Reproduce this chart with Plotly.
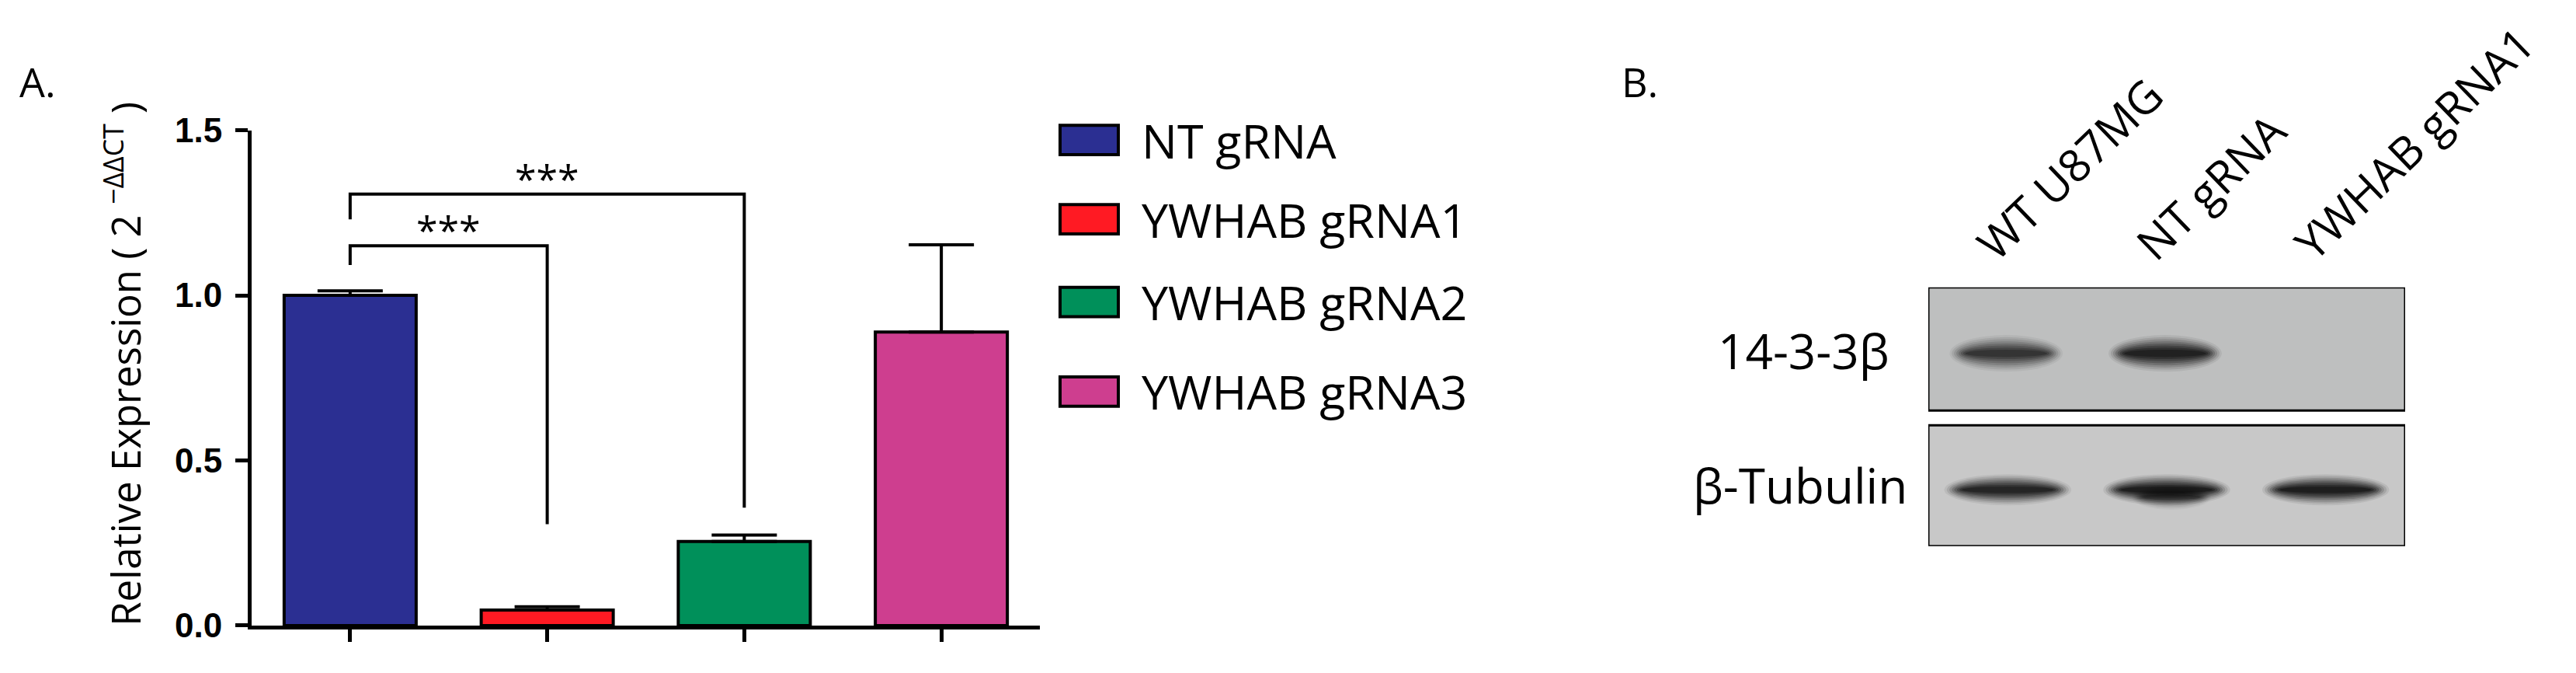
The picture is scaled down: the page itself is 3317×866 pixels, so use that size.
import plotly.graph_objects as go

W, H = 3317, 866

# ---------------- data ----------------
categories = ["NT gRNA", "YWHAB gRNA1", "YWHAB gRNA2", "YWHAB gRNA3"]
means = [1.000, 0.047, 0.255, 0.889]
sem_up = [0.014, 0.010, 0.019, 0.264]
colors = ["#2B2F92", "#FF1A23", "#00905A", "#CE3E8F"]
y_tickvals = [0.0, 0.5, 1.0, 1.5]
y_ticktext = ["0.0", "0.5", "1.0", "1.5"]

# significance brackets
sig_pairs = [(0, 1), (0, 2)]
sig_bracket_y = [1.150, 1.307]
sig_left_end = [1.092, 1.230]
sig_right_end = [0.307, 0.357]
sig_labels = ["***", "***"]

# western blot (panel B)
blot_lanes = ["WT U87MG", "NT gRNA", "YWHAB gRNA1"]
blot_targets = ["14-3-3β", "β-Tubulin"]
band_1433 = [0.72, 0.95, 0.00]
band_tubulin = [0.92, 1.00, 1.00]


def px(xp):
    return xp / W


def py(yp):
    return 1 - yp / H


FONT = "Open Sans"
x_idx = list(range(len(categories)))

fig = go.Figure()
fig.add_trace(go.Bar(
    x=x_idx, y=means, width=0.67,
    marker=dict(color=colors, line=dict(color="black", width=4)),
    error_y=dict(type="data", symmetric=False, array=sem_up,
                 arrayminus=[0] * len(means), color="black",
                 thickness=4, width=42),
    showlegend=False, hoverinfo="skip",
))
# dummy trace to anchor blot axes
fig.add_trace(go.Scatter(x=[None], y=[None], xaxis="x2", yaxis="y2",
                         showlegend=False, hoverinfo="skip"))

shapes = []
annotations = []

# significance brackets + stars
for (a, b), yb, yl, yr, lab in zip(sig_pairs, sig_bracket_y, sig_left_end,
                                    sig_right_end, sig_labels):
    shapes.append(dict(type="path", xref="x", yref="y",
                       path=f"M {a},{yl} L {a},{yb} L {b},{yb} L {b},{yr}",
                       line=dict(color="black", width=4), layer="above"))
    annotations.append(dict(x=(a + b) / 2, y=yb, xref="x", yref="y",
                            text=lab, showarrow=False, xanchor="center",
                            yanchor="middle", yshift=20,
                            font=dict(family=FONT, size=50, color="black")))

# y-axis title
annotations.append(dict(x=px(150), y=py(462), xref="paper", yref="paper",
                        text="Relative Expression ( 2 <sup>−ΔΔCT</sup> )",
                        textangle=-90, showarrow=False, xanchor="center",
                        yanchor="middle",
                        font=dict(family=FONT, size=51, color="black")))

# manual legend
legend_centers = [156, 264, 377, 499]
for cat, col, c in zip(categories, colors, legend_centers):
    shapes.append(dict(type="rect", xref="paper", yref="paper",
                       x0=px(1357), x1=px(1432), y0=py(c + 20), y1=py(c - 20),
                       fillcolor=col, line=dict(color="black", width=4)))
    annotations.append(dict(x=px(1460), y=py(c), xref="paper", yref="paper",
                            text=cat, showarrow=False, xanchor="left",
                            yanchor="middle",
                            font=dict(family=FONT, size=61, color="black")))

# panel letters
annotations.append(dict(x=px(40), y=py(76), xref="paper", yref="paper", text="A.",
                        showarrow=False, xanchor="center", yanchor="middle",
                        font=dict(family=FONT, size=52, color="black")))
annotations.append(dict(x=px(2103), y=py(76), xref="paper", yref="paper", text="B.",
                        showarrow=False, xanchor="center", yanchor="middle",
                        font=dict(family=FONT, size=52, color="black")))

# ---- blot panel ----
BOX_TOP = (185, 353)
BOX_BOT = (0, 165)
shapes.append(dict(type="rect", xref="x2", yref="y2", x0=-0.5, x1=2.5,
                   y0=BOX_TOP[0], y1=BOX_TOP[1], fillcolor="#BEBFBF",
                   line=dict(color="black", width=3), layer="below"))
shapes.append(dict(type="rect", xref="x2", yref="y2", x0=-0.5, x1=2.5,
                   y0=BOX_BOT[0], y1=BOX_BOT[1], fillcolor="#C8C8C8",
                   line=dict(color="black", width=3), layer="below"))

N_LAYERS = 8


def add_band(lane, yc, intensity, width, height):
    if intensity <= 0:
        return
    for k in range(N_LAYERS):
        t = k / (N_LAYERS - 1)
        ws = 1.08 - 0.30 * t
        hs = 2.5 - 2.0 * t
        op = (0.07 + 0.26 * t) * intensity
        shapes.append(dict(type="circle", xref="x2", yref="y2",
                           x0=lane - width * ws / 2, x1=lane + width * ws / 2,
                           y0=yc - height * hs / 2, y1=yc + height * hs / 2,
                           fillcolor="black", opacity=op,
                           line=dict(width=0), layer="above"))


for i, v in enumerate(band_1433):
    add_band(i - 0.01, 263, v, 0.66, 20)
for i, v in enumerate(band_tubulin):
    add_band(i, 77, v, 0.74, 17)
# NT tubulin band sags in the middle
add_band(1.03, 67, band_tubulin[1] * 0.45, 0.46, 14)

for i, lab in enumerate(blot_lanes):
    annotations.append(dict(x=i, y=BOX_TOP[1], xref="x2", yref="y2", text=lab,
                            textangle=-44, showarrow=False, xanchor="left",
                            yanchor="bottom", xshift=-60, yshift=16,
                            font=dict(family=FONT, size=58, color="black")))

target_pos = [(2314, 443), (2310, 626)]
for lab, (xp, yp) in zip(blot_targets, target_pos):
    annotations.append(dict(x=px(xp), y=py(yp), xref="paper", yref="paper",
                            text=lab, showarrow=False, xanchor="center",
                            yanchor="middle",
                            font=dict(family=FONT, size=62, color="black")))

fig.update_layout(
    width=W, height=H, autosize=False,
    margin=dict(l=0, r=0, t=0, b=0),
    paper_bgcolor="white", plot_bgcolor="white",
    xaxis=dict(domain=[px(316), px(1331)], range=[-0.5, 3.5],
               showline=True, linewidth=5, linecolor="black",
               ticks="outside", ticklen=16, tickwidth=5, tickcolor="black",
               tickvals=x_idx, showticklabels=False, showgrid=False,
               zeroline=False, fixedrange=True, anchor="y"),
    yaxis=dict(domain=[py(818.3), py(142.7)], range=[0, 1.5],
               showline=True, linewidth=5, linecolor="black",
               ticks="outside", ticklen=16, tickwidth=5, tickcolor="black",
               tickvals=y_tickvals, ticktext=y_ticktext,
               tickfont=dict(family="Liberation Sans", size=44, color="black",
                             weight="bold"),
               ticklabelstandoff=8,
               showgrid=False, zeroline=False, fixedrange=True, anchor="x"),
    xaxis2=dict(domain=[px(2475), px(3089)], range=[-0.5, 2.5], visible=False,
                anchor="y2", fixedrange=True),
    yaxis2=dict(domain=[py(710), py(357)], range=[0, 353], visible=False,
                anchor="x2", fixedrange=True),
    shapes=shapes,
    annotations=annotations,
    showlegend=False,
)

fig.write_html("out.html")
